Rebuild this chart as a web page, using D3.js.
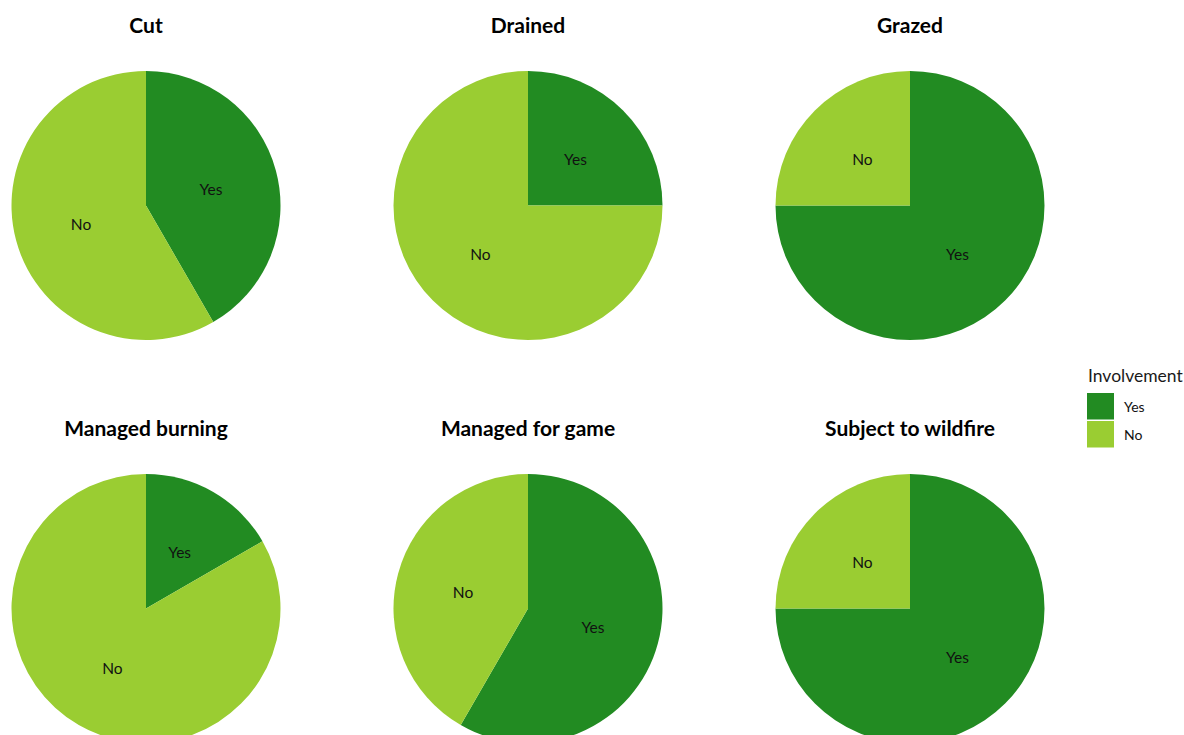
<!DOCTYPE html>
<html>
<head>
<meta charset="utf-8">
<script src="https://cdn.jsdelivr.net/npm/d3@7"></script>
<style>
  html, body { margin: 0; padding: 0; background: #ffffff; }
  svg { display: block; }
</style>
</head>
<body>
<svg id="chart" width="1184" height="735"></svg>
<script>
// Land management activities and the number of sites involved (out of 12)
const activities = ["Cut", "Drained", "Grazed", "Managed burning", "Managed for game", "Subject to wildfire"];
const yesCounts = [5, 3, 9, 2, 7, 9];
const noCounts  = [7, 9, 3, 10, 5, 3];
const involvementLevels = ["Yes", "No"];
const involvementColors = ["#228B22", "#9ACD32"];

const width = 1184, height = 735;
const svg = d3.select("#chart");
const fontFamily = "Lato, 'Open Sans', sans-serif";

const color = d3.scaleOrdinal().domain(involvementLevels).range(involvementColors);

// Facet centres: three columns, two rows
const colX = d3.scalePoint().domain([0, 1, 2]).range([146, 910]);
const rowY = d3.scalePoint().domain([0, 1]).range([0, 403]);
const radius = 134.5;

const pie = d3.pie().sort(null).value(d => d.value);
const arc = d3.arc().innerRadius(0).outerRadius(radius);
const labelArc = d3.arc().innerRadius(radius * 0.5).outerRadius(radius * 0.5);

activities.forEach((name, i) => {
  const c = i % 3, r = Math.floor(i / 3);
  const cx = colX(c);
  const top = rowY(r);
  const cy = top + 205.5;
  const g = svg.append("g").attr("transform", `translate(${cx},${cy})`);
  const data = [
    { key: "Yes", value: yesCounts[i] },
    { key: "No", value: noCounts[i] }
  ];
  const arcs = pie(data);
  g.selectAll("path").data(arcs).join("path")
    .attr("d", arc)
    .attr("fill", d => color(d.data.key));
  g.selectAll("text.lab").data(arcs).join("text")
    .attr("class", "lab")
    .attr("transform", d => `translate(${labelArc.centroid(d)})`)
    .attr("text-anchor", "middle")
    .attr("dy", "0.47em")
    .style("font-family", fontFamily)
    .style("font-size", "15.5px")
    .attr("fill", "#111")
    .text(d => d.data.key);
  svg.append("text")
    .attr("x", cx)
    .attr("y", top + 33)
    .attr("text-anchor", "middle")
    .style("font-family", fontFamily)
    .style("font-weight", "bold")
    .style("font-size", "21px")
    .attr("fill", "#000")
    .text(name);
});

// Legend
const legend = svg.append("g").attr("transform", "translate(1087,0)");
legend.append("text")
  .attr("x", 1).attr("y", 382)
  .style("font-family", fontFamily)
  .style("font-size", "17.5px")
  .attr("fill", "#1a1a1a")
  .text("Involvement");
involvementLevels.forEach((lvl, k) => {
  const y0 = 393 + k * 28;
  legend.append("rect")
    .attr("x", 0).attr("y", y0)
    .attr("width", 27).attr("height", 26.5)
    .attr("fill", color(lvl));
  legend.append("text")
    .attr("x", 37).attr("y", y0 + 19)
    .style("font-family", fontFamily)
    .style("font-size", "14px")
    .attr("fill", "#111")
    .text(lvl);
});
</script>
</body>
</html>
